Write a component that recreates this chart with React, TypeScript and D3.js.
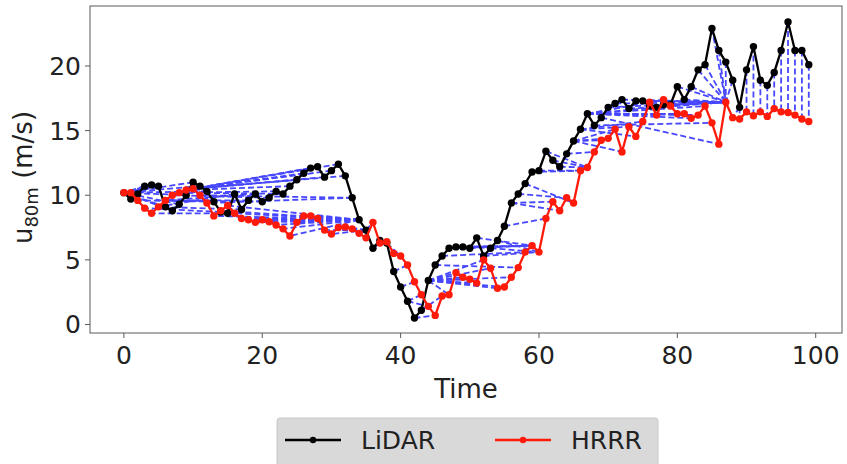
import React from "react";
import * as d3 from "d3";

const W = 847;
const H = 464;

const lidar: number[] = [
  10.2, 9.7, 10.1, 10.7, 10.8, 10.7, 9.1, 8.8, 9.3, 10.0,
  11.0, 10.7, 10.3, 9.5, 8.7, 8.6, 10.1, 8.9, 9.6, 10.1,
  9.5, 9.8, 10.3, 10.1, 10.7, 11.2, 11.7, 12.1, 12.2, 11.4,
  11.9, 12.4, 11.5, 9.8, 8.1, 7.3, 5.9, 6.5, 6.3, 4.1,
  2.9, 1.8, 0.5, 1.1, 3.4, 4.6, 5.3, 5.9, 6.0, 6.0,
  5.9, 6.7, 5.3, 5.9, 6.5, 7.6, 9.4, 10.1, 10.9, 11.8,
  11.9, 13.4, 12.7, 12.2, 13.2, 14.2, 15.1, 16.3, 15.4, 16.0,
  16.8, 17.1, 17.4, 16.7, 17.3, 17.3, 16.9, 16.8, 17.0, 17.0,
  18.4, 17.4, 18.4, 19.7, 20.1, 22.9, 21.2, 20.3, 18.9, 16.8,
  19.7, 21.5, 18.9, 18.5, 19.5, 21.2, 23.4, 21.2, 21.2, 20.1,
];

const hrrr: number[] = [
  10.2, 10.2, 9.6, 9.0, 8.6, 9.1, 9.6, 10.0, 10.2, 10.4,
  10.5, 10.0, 9.4, 8.4, 8.8, 9.2, 8.6, 8.2, 8.1, 7.9,
  8.1, 7.95, 7.7, 7.4, 6.85, 7.9, 8.4, 8.4, 8.2, 7.3,
  7.0, 7.5, 7.55, 7.4, 7.05, 6.7, 7.9, 6.3, 6.4, 5.5,
  5.3, 4.6, 3.3, 2.3, 1.4, 0.7, 2.2, 2.3, 4.0, 3.65,
  3.5, 3.2, 5.0, 4.35, 2.8, 2.9, 3.65, 4.4, 5.6, 6.1,
  5.6, 8.2, 9.5, 8.8, 9.8, 9.4, 11.9, 12.15, 13.35, 14.25,
  14.4, 15.1, 13.35, 15.3, 14.55, 15.7, 17.2, 16.2, 17.4, 16.9,
  16.3, 16.3, 15.95, 16.2, 16.9, 15.6, 13.95, 17.2, 16.0, 15.9,
  16.45, 16.15, 16.45, 16.1, 16.7, 16.45, 16.4, 16.2, 15.9, 15.7,
];

const xTicks = [0, 20, 40, 60, 80, 100];
const yTicks = [0, 5, 10, 15, 20];
const seriesNames = ["LiDAR", "HRRR"];
const seriesColors = ["#000000", "#ff1a0a"];

// Dynamic time warping path between the two series (absolute difference cost)
function dtwPath(a: number[], b: number[]): [number, number][] {
  const n = a.length;
  const m = b.length;
  const D: number[][] = [];
  for (let i = 0; i < n; i++) {
    D.push(new Array(m).fill(Infinity));
    for (let j = 0; j < m; j++) {
      const c = Math.abs(a[i] - b[j]);
      if (i === 0 && j === 0) D[i][j] = c;
      else {
        let best = Infinity;
        if (i > 0) best = Math.min(best, D[i - 1][j]);
        if (j > 0) best = Math.min(best, D[i][j - 1]);
        if (i > 0 && j > 0) best = Math.min(best, D[i - 1][j - 1]);
        D[i][j] = c + best;
      }
    }
  }
  const path: [number, number][] = [];
  let i = n - 1;
  let j = m - 1;
  path.push([i, j]);
  while (i > 0 || j > 0) {
    if (i === 0) j--;
    else if (j === 0) i--;
    else {
      const d = D[i - 1][j - 1];
      const u = D[i - 1][j];
      const l = D[i][j - 1];
      if (d <= u && d <= l) {
        i--;
        j--;
      } else if (u <= l) i--;
      else j--;
    }
    path.push([i, j]);
  }
  return path.reverse();
}

export default function App() {
  const left = 90;
  const right = 842;
  const top = 6;
  const bottom = 333;

  const x = d3.scaleLinear().domain([-4.9, 103.8]).range([left, right]);
  const y = d3.scaleLinear().domain([-0.66, 24.64]).range([bottom, top]);

  const line = d3
    .line<number>()
    .x((_, i) => x(i))
    .y((d) => y(d));

  const path = dtwPath(lidar, hrrr);
  const axisColor = "#5a5a5a";
  const font = "DejaVu Sans, sans-serif";
  const fs = 25;

  return (
    <svg
      width={W}
      height={H}
      style={{ position: "absolute", left: 0, top: 0, background: "#fff" }}
      fontFamily={font}
    >
      <rect x={0} y={0} width={W} height={H} fill="#fff" />
      {/* warping lines */}
      <g stroke="#1a1aff" strokeWidth={1.8} strokeDasharray="6 3" opacity={0.8}>
        {path.map(([i, j], k) => (
          <line key={k} x1={x(i)} y1={y(lidar[i])} x2={x(j)} y2={y(hrrr[j])} />
        ))}
      </g>
      {/* series */}
      {[lidar, hrrr].map((s, si) => (
        <g key={si}>
          <path d={line(s) || ""} fill="none" stroke={seriesColors[si]} strokeWidth={2.3} />
          {s.map((v, i) => (
            <circle key={i} cx={x(i)} cy={y(v)} r={3.7} fill={seriesColors[si]} />
          ))}
        </g>
      ))}
      {/* frame */}
      <rect
        x={left}
        y={top}
        width={right - left}
        height={bottom - top}
        fill="none"
        stroke={axisColor}
        strokeWidth={1}
      />
      {/* x ticks */}
      {xTicks.map((t) => (
        <g key={t}>
          <line x1={x(t)} x2={x(t)} y1={bottom} y2={bottom + 5} stroke={axisColor} />
          <text x={x(t)} y={bottom + 31} textAnchor="middle" fontSize={fs} fill="#222">
            {t}
          </text>
        </g>
      ))}
      {/* y ticks */}
      {yTicks.map((t) => (
        <g key={t}>
          <line x1={left - 5} x2={left} y1={y(t)} y2={y(t)} stroke={axisColor} />
          <text x={left - 9} y={y(t) + 9} textAnchor="end" fontSize={fs} fill="#222">
            {t}
          </text>
        </g>
      ))}
      <text x={(left + right) / 2} y={398} textAnchor="middle" fontSize={fs + 1} fill="#222">
        Time
      </text>
      <text
        transform={`translate(32, ${(top + bottom) / 2 + 8}) rotate(-90)`}
        textAnchor="middle"
        fontSize={fs + 1}
        fill="#222"
      >
        u<tspan fontSize={18} dy={6}>80m</tspan>
        <tspan dy={-6}> (m/s)</tspan>
      </text>
      {/* legend */}
      <g>
        <rect x={277} y={418} width={381} height={60} rx={3} fill="#d9d9d9" stroke="#c8c8c8" />
        {seriesNames.map((name, k) => {
          const lx = 285 + k * 210;
          return (
            <g key={name}>
              <line x1={lx} x2={lx + 56} y1={440} y2={440} stroke={seriesColors[k]} strokeWidth={2.5} />
              <circle cx={lx + 28} cy={440} r={3.2} fill={seriesColors[k]} />
              <text x={lx + 76} y={449} fontSize={fs} fill="#222">
                {name}
              </text>
            </g>
          );
        })}
      </g>
    </svg>
  );
}
